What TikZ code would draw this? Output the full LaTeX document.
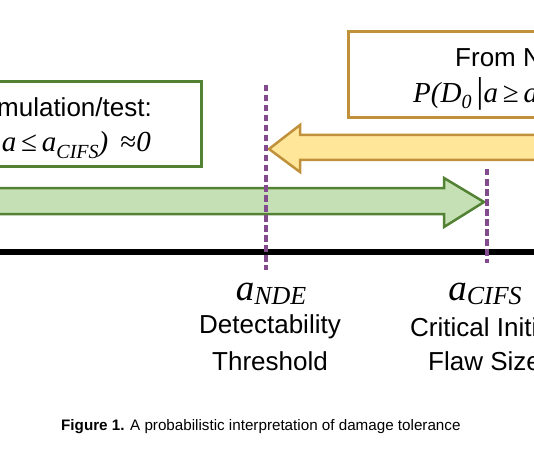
\documentclass[tikz,border=0pt]{standalone}
\usepackage{fontspec}
\setmainfont{Liberation Sans}
\newfontfamily\tms{Liberation Serif}
\definecolor{grn}{HTML}{548235}
\definecolor{grnfill}{HTML}{C5E0B4}
\definecolor{gld}{HTML}{C0913A}
\definecolor{ylwfill}{HTML}{FFE699}
\definecolor{prp}{HTML}{834A8E}
\newcommand\fs[1]{\fontsize{#1}{#1}\selectfont}
\newcommand\sbs[2]{\raisebox{-0.22em}{\fs{#1}#2}}
\newcommand\lsb[2]{\raisebox{-0.12em}{\fs{#1}#2}}
\tikzset{
  gbox/.style={draw=grn, line width=3pt, fill=white},
  ybox/.style={draw=gld, line width=3pt, fill=white},
  yarrow/.style={draw=gld, line width=2.5pt, fill=ylwfill, line join=miter},
  garrow/.style={draw=grn, line width=2.5pt, fill=grnfill, line join=miter},
  pdash/.style={draw=prp, line width=3.4pt, dash pattern=on 6.5pt off 3.5pt},
  lbl/.style={font=\fs{26}, inner sep=0pt},
}
\begin{document}
\begin{tikzpicture}[x=1pt,y=-1pt]
\useasboundingbox (0,0) rectangle (534,462);
\clip (0,0) rectangle (534,462);
% boxes
\draw[gbox] (-20,82) rectangle (201,167);
\draw[ybox] (348,32) rectangle (570,118);
% arrows
\draw[yarrow] (269,149) -- (300,125) -- (300,135) -- (570,135) -- (570,160) -- (300,160) -- (300,172) -- cycle;
\draw[garrow] (484,202) -- (444,178) -- (444,188) -- (-20,188) -- (-20,214) -- (444,214) -- (444,227) -- cycle;
% axis
\draw[line width=5.5pt] (-10,252) -- (544,252);
% thresholds
\coordinate (n1) at (266,85);
\coordinate (n2) at (266,270);
\coordinate (c1) at (487,169);
\coordinate (c2) at (487,263);
\draw[pdash] (n1) -- (n2);
\draw[pdash] (c1) -- (c2);
% box texts
\node[lbl, anchor=east] (sim) at (152,107) {mulation/test:};
\node[lbl, anchor=east] (simeq) at (151,145) {\tms\fs{29}\itshape a\,{\upshape ≤}\,a\sbs{20}{CIFS})\, {\upshape ≈}0};
\node[lbl, anchor=west] (from) at (455,58) {From N};
\node[lbl, anchor=west] (fromeq) at (413,94) {\tms\fs{29}\itshape P(D\sbs{20}{0}\,{\upshape\fs{36}|}a\,{\upshape ≥}\,a};
% labels
\node[lbl] (ande) at (271,294) {\tms\itshape\fs{37}a\lsb{26}{NDE}};
\node[lbl] (det) at (270,327) {Detectability};
\node[lbl] (thr) at (270,361) {Threshold};
\node[lbl] (acifs) at (485,294) {\tms\itshape\fs{37}a\lsb{26}{CIFS}};
\node[lbl, anchor=west] (crit) at (410,327) {Critical Initial};
\node[lbl, anchor=west] (flaw) at (428,361) {Flaw Size};
% caption
\node[inner sep=0pt, font=\fs{15.2}, anchor=west] (cap) at (61,427) {\textbf{Figure 1.} A probabilistic interpretation of damage tolerance};
\end{tikzpicture}
\end{document}
